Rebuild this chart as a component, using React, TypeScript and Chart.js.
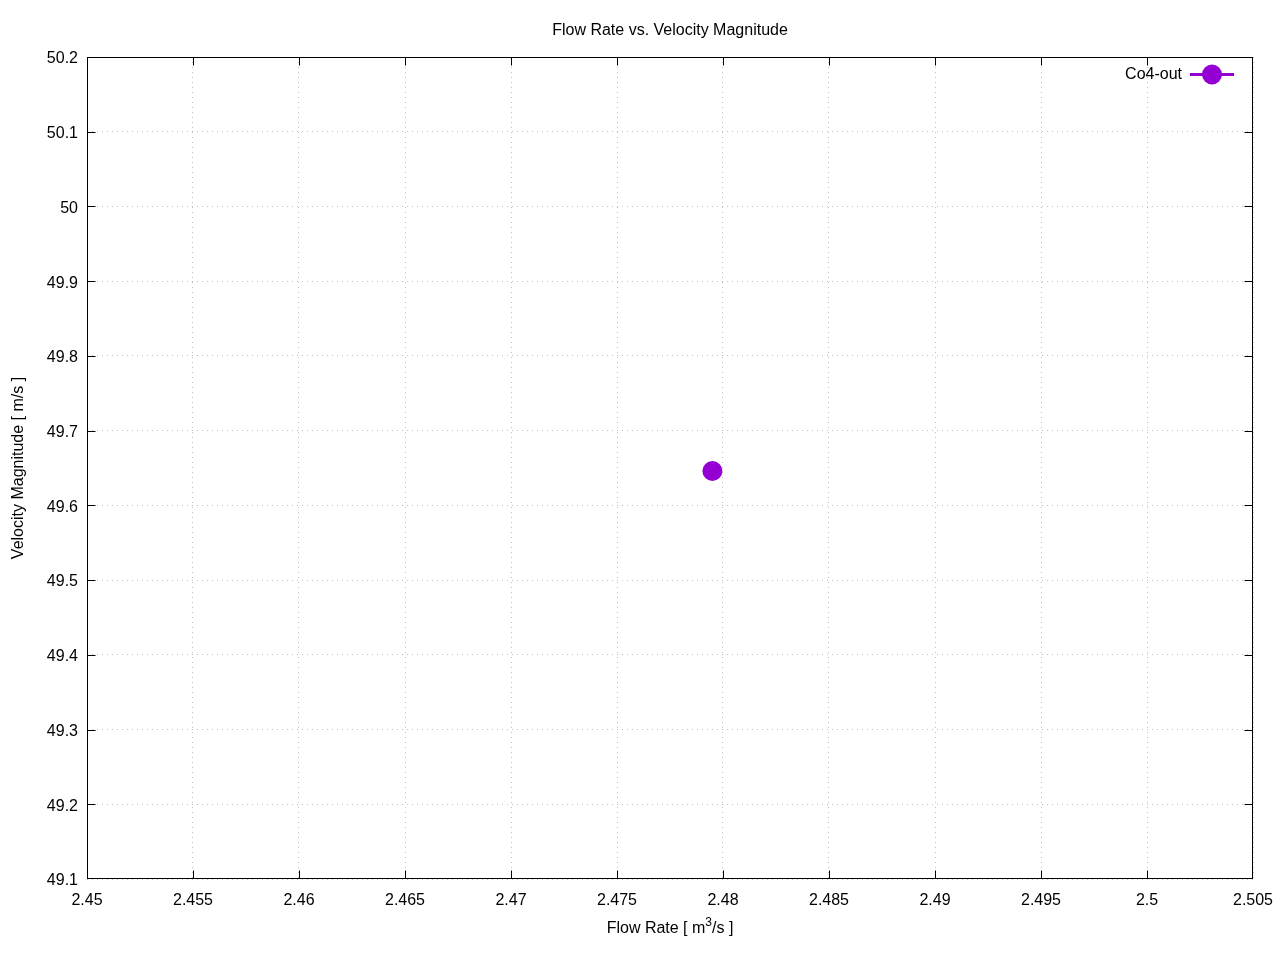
import React, { useEffect, useRef } from "react";
import { Chart, registerables } from "chart.js";

Chart.register(...registerables);

const seriesName = "Co4-out";
const flowRates = [2.4795];
const velocities = [49.646];
const xTickRange = [2.45, 2.505];
const yTickRange = [49.1, 50.2];
const titleText = "Flow Rate vs. Velocity Magnitude";
const yLabelText = "Velocity Magnitude [ m/s ]";

const FONT = '"Liberation Sans", Arial, sans-serif';
const PURPLE = "#9400d3";

const fmt = (v: number) => String(Number(v.toFixed(4)));

const decorPlugin = {
  id: "decor",
  afterDraw(chart: any) {
    const ctx = chart.ctx as CanvasRenderingContext2D;
    const { left, right, top, bottom } = chart.chartArea;
    const xs = chart.scales.x;
    const ys = chart.scales.y;
    const L = Math.round(left) + 0.5;
    const R = Math.round(right) - 0.5;
    const T = Math.round(top) + 0.5;
    const B = Math.round(bottom) - 0.5;
    ctx.save();
    ctx.strokeStyle = "#000";
    ctx.lineWidth = 1;
    ctx.strokeRect(L, T, R - L, B - T);
    const tl = 8;
    ctx.beginPath();
    xs.ticks.forEach((t: any) => {
      const px = Math.min(Math.round(xs.getPixelForValue(t.value)) + 0.5, R);
      ctx.moveTo(px, B);
      ctx.lineTo(px, B - tl);
      ctx.moveTo(px, T);
      ctx.lineTo(px, T + tl);
    });
    ys.ticks.forEach((t: any) => {
      const py = Math.min(Math.round(ys.getPixelForValue(t.value)) + 0.5, B);
      ctx.moveTo(L, py);
      ctx.lineTo(L + tl, py);
      ctx.moveTo(R, py);
      ctx.lineTo(R - tl, py);
    });
    ctx.stroke();

    ctx.fillStyle = "#000";
    ctx.font = `16px ${FONT}`;
    ctx.textAlign = "center";
    ctx.textBaseline = "middle";
    const cx = (left + right) / 2;
    ctx.fillText(titleText, cx, 31);

    const p1 = "Flow Rate [ m";
    const sup = "3";
    const p2 = "/s ]";
    ctx.font = `16px ${FONT}`;
    const w1 = ctx.measureText(p1).width;
    const w3 = ctx.measureText(p2).width;
    ctx.font = `12px ${FONT}`;
    const w2 = ctx.measureText(sup).width;
    const total = w1 + w2 + w3;
    const x0 = cx - total / 2;
    ctx.textAlign = "left";
    ctx.font = `16px ${FONT}`;
    ctx.fillText(p1, x0, 929);
    ctx.font = `12px ${FONT}`;
    ctx.fillText(sup, x0 + w1, 923);
    ctx.font = `16px ${FONT}`;
    ctx.fillText(p2, x0 + w1 + w2, 929);

    ctx.save();
    ctx.translate(19, (top + bottom) / 2);
    ctx.rotate(-Math.PI / 2);
    ctx.textAlign = "center";
    ctx.fillText(yLabelText, 0, 0);
    ctx.restore();

    const ly = 74;
    ctx.textAlign = "right";
    ctx.fillText(seriesName, 1182, ly + 1);
    ctx.strokeStyle = PURPLE;
    ctx.lineWidth = 3;
    ctx.beginPath();
    ctx.moveTo(1190, ly + 0.5);
    ctx.lineTo(1234, ly + 0.5);
    ctx.stroke();
    ctx.fillStyle = PURPLE;
    ctx.beginPath();
    ctx.arc(1212, ly + 0.5, 10, 0, Math.PI * 2);
    ctx.fill();
    ctx.restore();
  },
};

export default function App() {
  const ref = useRef<HTMLCanvasElement | null>(null);
  useEffect(() => {
    document.body.style.margin = "0";
    const canvas = ref.current!;
    const chart = new Chart(canvas, {
      type: "scatter",
      data: {
        datasets: [
          {
            label: seriesName,
            data: flowRates.map((x, i) => ({ x, y: velocities[i] })),
            backgroundColor: PURPLE,
            borderColor: PURPLE,
            pointRadius: 10,
            pointHoverRadius: 10,
            borderWidth: 0,
          },
        ],
      },
      options: {
        animation: false,
        responsive: false,
        devicePixelRatio: 1,
        layout: { padding: { left: 0, right: 27, top: 57, bottom: 0 } },
        plugins: {
          legend: { display: false },
          title: { display: false },
          tooltip: { enabled: false },
        },
        scales: {
          x: {
            type: "linear",
            min: xTickRange[0],
            max: xTickRange[1],
            border: { display: false, dash: [1, 4] },
            grid: {
              color: "#c0c0c0",
              drawTicks: false,
              lineWidth: 1,
            },
            ticks: {
              stepSize: 0.005,
              padding: 12,
              color: "#000",
              font: { family: FONT, size: 16 },
              maxRotation: 0,
              autoSkip: false,
              callback: (v: any) => fmt(Number(v)),
            },
            afterFit: (s: any) => {
              s.height = 81;
              s.paddingLeft = 0;
              s.paddingRight = 0;
            },
          },
          y: {
            type: "linear",
            min: yTickRange[0],
            max: yTickRange[1],
            border: { display: false, dash: [1, 4] },
            grid: {
              color: "#c0c0c0",
              drawTicks: false,
              lineWidth: 1,
            },
            ticks: {
              stepSize: 0.1,
              padding: 9,
              labelOffset: 2,
              color: "#000",
              font: { family: FONT, size: 16 },
              autoSkip: false,
              callback: (v: any) => fmt(Number(v)),
            },
            afterFit: (s: any) => {
              s.width = 87;
              s.paddingTop = 0;
              s.paddingBottom = 0;
            },
          },
        },
      },
      plugins: [decorPlugin],
    } as any);
    return () => chart.destroy();
  }, []);
  return (
    <div style={{ width: 1280, height: 960, background: "#fff" }}>
      <canvas ref={ref} width={1280} height={960} />
    </div>
  );
}
